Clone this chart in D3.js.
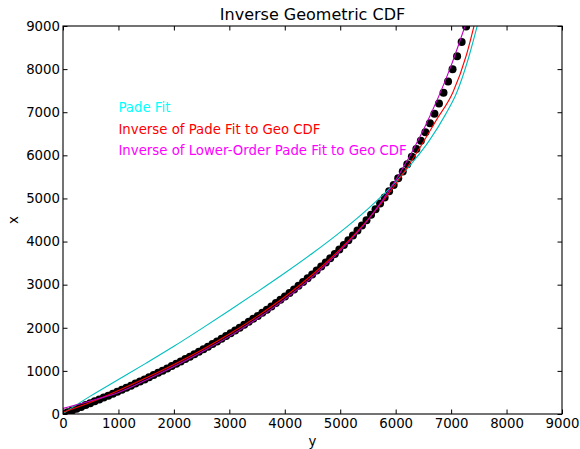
<!DOCTYPE html>
<html>
<head>
<script src="https://cdn.jsdelivr.net/npm/d3@7"></script>
<style>
  html, body { margin: 0; padding: 0; background: #fff; }
  svg { display: block; font-family: "DejaVu Sans", sans-serif; }
</style>
</head>
<body>
<div id="chart"></div>
<script>
// ---- data ----
// black dots: horizontal value (y) and vertical value (x)
const dotY = [0, 82, 163, 245, 327, 409, 490, 572, 654, 735, 817, 899, 980, 1062, 1144, 1226, 1307, 1389,
  1471, 1552, 1634, 1716, 1797, 1879, 1961, 2043, 2124, 2206, 2288, 2369, 2451, 2533, 2614, 2696, 2778,
  2860, 2941, 3023, 3105, 3186, 3268, 3350, 3431, 3513, 3595, 3677, 3758, 3840, 3922, 4003, 4085, 4167,
  4248, 4330, 4412, 4494, 4575, 4657, 4739, 4820, 4902, 4984, 5065, 5147, 5229, 5311, 5392, 5474, 5556,
  5637, 5719, 5801, 5882, 5964, 6046, 6128, 6209, 6291, 6373, 6454, 6536, 6618, 6699, 6781, 6863, 6945,
  7026, 7108, 7190, 7271];
const dotX = [0, 40, 82, 123, 165, 208, 250, 293, 338, 382, 426, 472, 517, 563, 610, 658, 706, 754,
  803, 853, 903, 954, 1005, 1058, 1111, 1165, 1219, 1274, 1330, 1386, 1444, 1503, 1562, 1622, 1683,
  1745, 1807, 1871, 1936, 2002, 2069, 2137, 2207, 2276, 2348, 2421, 2496, 2572, 2649, 2727, 2808, 2890,
  2974, 3059, 3146, 3235, 3327, 3420, 3515, 3613, 3714, 3816, 3922, 4030, 4141, 4256, 4374, 4496, 4621,
  4750, 4883, 5020, 5164, 5312, 5466, 5625, 5791, 5966, 6147, 6337, 6536, 6745, 6967, 7200, 7449, 7713,
  7997, 8301, 8631, 8989];

// Pade Fit (cyan)
const cyanY = [0, 500, 1000, 1500, 2000, 2500, 3000, 3500, 4000, 4500, 5000, 5500, 6000, 6300, 6600, 6900, 7100, 7300, 7470];
const cyanX = [10, 420, 800, 1180, 1570, 1980, 2400, 2830, 3270, 3730, 4220, 4760, 5380, 5830, 6330, 6950, 7450, 8200, 9000];

// Inverse of Pade Fit to Geo CDF (red)
const redY = [0, 500, 1000, 1500, 2000, 2500, 3000, 3500, 4000, 4500, 5000, 5500, 6000, 6400, 6736, 7035, 7276, 7413];
const redX = [40, 270, 545, 840, 1150, 1485, 1855, 2265, 2720, 3235, 3825, 4510, 5330, 6100, 6822, 7469, 8327, 9000];

// Inverse of Lower-Order Pade Fit to Geo CDF (magenta)
const magY = [0, 300, 600, 1000, 1500, 2000, 2500, 3000, 3500, 4000, 4500, 5000, 5500, 6000, 6500, 7000, 7251];
const magX = [130, 230, 340, 500, 790, 1100, 1440, 1800, 2210, 2660, 3180, 3790, 4500, 5420, 6590, 8080, 9000];

const tickValues = [0, 1000, 2000, 3000, 4000, 5000, 6000, 7000, 8000, 9000];

const labelText = ["Pade Fit", "Inverse of Pade Fit to Geo CDF", "Inverse of Lower-Order Pade Fit to Geo CDF"];
const labelAtY = [1000, 1000, 1000];
const labelAtX = [7000, 6500, 6000];

// ---- layout ----
const WIDTH = 580, HEIGHT = 449;
const margin = {top: 26, right: 18, bottom: 35, left: 63};
const plotW = WIDTH - margin.left - margin.right;
const plotH = HEIGHT - margin.top - margin.bottom;

const xScale = d3.scaleLinear().domain([0, 9000]).range([0, plotW]);
const yScale = d3.scaleLinear().domain([0, 9000]).range([plotH, 0]);

const svg = d3.select("#chart").append("svg")
  .attr("width", WIDTH)
  .attr("height", HEIGHT);

svg.append("defs").append("clipPath").attr("id", "plotclip")
  .append("rect").attr("width", plotW).attr("height", plotH);

const g = svg.append("g").attr("transform", `translate(${margin.left},${margin.top})`);
const plot = g.append("g").attr("clip-path", "url(#plotclip)");

// dots
plot.append("g").selectAll("circle")
  .data(dotY.map((v, i) => [v, dotX[i]]))
  .join("circle")
  .attr("cx", d => xScale(d[0]))
  .attr("cy", d => yScale(d[1]))
  .attr("r", 4)
  .attr("fill", "#000");

const line = d3.line()
  .x(d => xScale(d[0]))
  .y(d => yScale(d[1]))
  .curve(d3.curveMonotoneX);

const series = [
  {ys: cyanY, xs: cyanX, color: "#00bfbf"},
  {ys: redY, xs: redX, color: "#ff0000"},
  {ys: magY, xs: magX, color: "#bf00bf"}
];
series.forEach(s => {
  plot.append("path")
    .datum(s.ys.map((v, i) => [v, s.xs[i]]))
    .attr("d", line)
    .attr("fill", "none")
    .attr("stroke", s.color)
    .attr("stroke-width", 1.1);
});

// text labels
const labelColors = ["#00ffff", "#ff0000", "#ff00ff"];
g.append("g").selectAll("text")
  .data(labelText)
  .join("text")
  .attr("x", (d, i) => xScale(labelAtY[i]))
  .attr("y", (d, i) => yScale(labelAtX[i]))
  .attr("fill", (d, i) => labelColors[i])
  .style("font-size", "13.3px")
  .text(d => d);

// axes, ticks pointing inward on all four sides
function styleAxis(sel) {
  sel.selectAll(".domain").remove();
  sel.selectAll(".tick line").attr("stroke", "#000").attr("stroke-width", 1);
  sel.selectAll("text").style("font-size", "13.3px").style("font-family", "DejaVu Sans").attr("fill", "#000");
}
const fmt = d3.format("d");

g.append("g").attr("transform", `translate(0,${plotH})`)
  .call(d3.axisBottom(xScale).tickValues(tickValues).tickFormat(fmt).tickSizeInner(-4.5).tickSizeOuter(0).tickPadding(5))
  .call(styleAxis);
g.append("g")
  .call(d3.axisLeft(yScale).tickValues(tickValues).tickFormat(fmt).tickSizeInner(-4.5).tickSizeOuter(0).tickPadding(3))
  .call(styleAxis);
g.append("g")
  .call(d3.axisTop(xScale).tickValues(tickValues).tickSizeInner(-4.5).tickSizeOuter(0).tickFormat(""))
  .call(styleAxis);
g.append("g").attr("transform", `translate(${plotW},0)`)
  .call(d3.axisRight(yScale).tickValues(tickValues).tickSizeInner(-4.5).tickSizeOuter(0).tickFormat(""))
  .call(styleAxis);

// frame
g.append("rect")
  .attr("width", plotW)
  .attr("height", plotH)
  .attr("fill", "none")
  .attr("stroke", "#000")
  .attr("stroke-width", 1.1);

// title and axis labels
svg.append("text")
  .attr("x", margin.left + plotW / 2)
  .attr("y", 20)
  .attr("text-anchor", "middle")
  .style("font-size", "16px")
  .text("Inverse Geometric CDF");

svg.append("text")
  .attr("x", margin.left + plotW / 2)
  .attr("y", 446)
  .attr("text-anchor", "middle")
  .style("font-size", "13.3px")
  .text("y");

svg.append("text")
  .attr("transform", `translate(17.5,${margin.top + plotH / 2}) rotate(-90)`)
  .attr("text-anchor", "middle")
  .style("font-size", "13.3px")
  .text("x");
</script>
</body>
</html>
